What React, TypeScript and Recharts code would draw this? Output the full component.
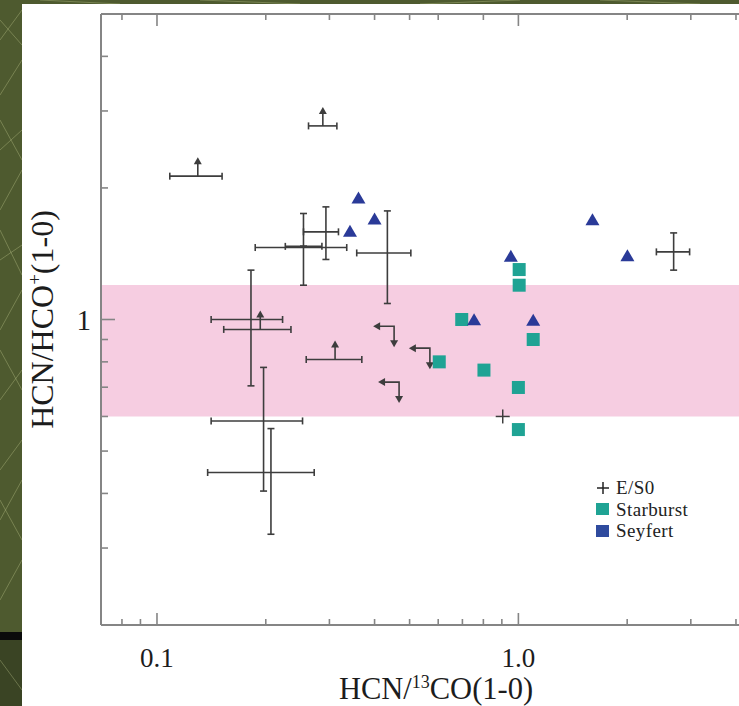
import React from 'react';
import { ScatterChart, Scatter, XAxis, YAxis, ErrorBar, ReferenceArea, Legend } from 'recharts';

// ---------- axes ----------
const xDomain = [0.07, 5];
const yDomain = [0.2, 5];
const xTicks = [0.08, 0.09, 0.1, 0.2, 0.3, 0.4, 0.5, 0.6, 0.7, 0.8, 0.9, 1, 2, 3, 4];
const xMajorTicks = [0.1, 1];
const xMajorLabels = ['0.1', '1.0'];
const yTicks = [0.3, 0.4, 0.5, 0.6, 0.7, 0.8, 0.9, 1, 2, 3, 4];
const yMajorTicks = [1];
const yMajorLabels = ['1'];
const bandLow = 0.6;
const bandHigh = 1.2;

// ---------- Seyfert (triangles) ----------
const seyfertX = [0.361, 0.4, 0.342, 0.953, 0.754, 1.099, 1.603, 2.003];
const seyfertY = [1.892, 1.694, 1.587, 1.391, 0.996, 0.993, 1.687, 1.396];

// ---------- Starburst (squares) ----------
const starburstX = [1.005, 1.005, 0.697, 1.099, 0.604, 0.803, 1.0, 1.0];
const starburstY = [1.301, 1.198, 1.0, 0.9, 0.8, 0.766, 0.699, 0.56];

// ---------- E/S0 with error bars ----------
const crossX = [0.2543, 0.2543, 0.2934, 0.434, 0.182, 0.1972, 0.2067, 2.689];
const crossXLo = [0.187, 0.2265, 0.2543, 0.357, 0.1412, 0.1412, 0.1381, 2.409];
const crossXHi = [0.335, 0.286, 0.3178, 0.504, 0.2226, 0.2528, 0.2723, 2.977];
const crossY = [1.461, 1.47, 1.587, 1.42, 1.0, 0.586, 0.4466, 1.428];
const crossYLo = [1.198, 1.47, 1.372, 1.088, 0.705, 0.405, 0.3226, 1.297];
const crossYHi = [1.748, 1.47, 1.81, 1.772, 1.297, 0.777, 0.5629, 1.578];

// ---------- E/S0 lower limits ----------
const lowerX = [0.1297, 0.2877, 0.1931, 0.311];
const lowerXLo = [0.1085, 0.2626, 0.153, 0.2588];
const lowerXHi = [0.1514, 0.3146, 0.2348, 0.3688];
const lowerY = [2.128, 2.773, 0.949, 0.81];

// ---------- E/S0 upper limits (both axes) ----------
const upperX = [0.453, 0.569, 0.4676];
const upperY = [0.965, 0.86, 0.719];

// ---------- E/S0 plain point ----------
const plainX = [0.905];
const plainY = [0.6];

// ---------- legend ----------
const legendNames = ['E/S0', 'Starburst', 'Seyfert'];

const INK = '#3d3d3d';
const TEAL = '#1fa394';
const BLUE = '#2a3a98';
const AXIS = '#858585';
const FONT = '"Liberation Serif", "DejaVu Serif", serif';

const seyfertData = seyfertX.map((x, i) => ({ x, y: seyfertY[i] }));
const starburstData = starburstX.map((x, i) => ({ x, y: starburstY[i] }));
const crossData = crossX.map((x, i) => ({
  x,
  y: crossY[i],
  ex: [x - crossXLo[i], crossXHi[i] - x],
  ey: [crossY[i] - crossYLo[i], crossYHi[i] - crossY[i]],
}));
const lowerData = lowerX.map((x, i) => ({
  x,
  y: lowerY[i],
  ex: [x - lowerXLo[i], lowerXHi[i] - x],
}));
const upperData = upperX.map((x, i) => ({ x, y: upperY[i] }));
const plainData = plainX.map((x, i) => ({ x, y: plainY[i] }));

const Tri = (p: any) => {
  const { cx, cy } = p;
  if (cx == null) return null;
  return <path d={`M${cx},${cy - 7} L${cx + 7},${cy + 5} L${cx - 7},${cy + 5} Z`} fill={BLUE} />;
};
const Sq = (p: any) => {
  const { cx, cy } = p;
  if (cx == null) return null;
  return <rect x={cx - 6.5} y={cy - 6.5} width={13} height={13} fill={TEAL} />;
};
const Empty = () => <g />;
const UpArrow = (p: any) => {
  const { cx, cy } = p;
  if (cx == null) return null;
  return (
    <g>
      <line x1={cx} y1={cy} x2={cx} y2={cy - 14} stroke={INK} strokeWidth={1.6} />
      <path d={`M${cx - 4},${cy - 12} L${cx},${cy - 19} L${cx + 4},${cy - 12} Z`} fill={INK} />
    </g>
  );
};
const CornerArrow = (p: any) => {
  const { cx, cy } = p;
  if (cx == null) return null;
  return (
    <g>
      <polyline points={`${cx - 16},${cy} ${cx},${cy} ${cx},${cy + 16}`} fill="none" stroke={INK} strokeWidth={1.6} />
      <path d={`M${cx - 14},${cy - 4} L${cx - 21},${cy} L${cx - 14},${cy + 4} Z`} fill={INK} />
      <path d={`M${cx - 4},${cy + 14} L${cx},${cy + 21} L${cx + 4},${cy + 14} Z`} fill={INK} />
    </g>
  );
};
const Plus = (p: any) => {
  const { cx, cy } = p;
  if (cx == null) return null;
  return (
    <g stroke={INK} strokeWidth={1.5}>
      <line x1={cx - 7} y1={cy} x2={cx + 7} y2={cy} />
      <line x1={cx} y1={cy - 7} x2={cx} y2={cy + 7} />
    </g>
  );
};

const BottomTick = (p: any) => {
  const { x, y, payload } = p;
  const idx = xMajorTicks.indexOf(payload.value);
  const len = idx >= 0 ? 12 : 6;
  return (
    <g>
      <line x1={x} x2={x} y1={y} y2={y - len} stroke={AXIS} strokeWidth={1.6} />
      {idx >= 0 && (
        <text x={x} y={y + 42} textAnchor="middle" fontFamily={FONT} fontSize={27} fill="#1c1c1c">
          {xMajorLabels[idx]}
        </text>
      )}
    </g>
  );
};
const TopTick = (p: any) => {
  const { x, y, payload } = p;
  const len = xMajorTicks.indexOf(payload.value) >= 0 ? 12 : 6;
  return <line x1={x} x2={x} y1={y} y2={y + len} stroke={AXIS} strokeWidth={1.6} />;
};
const LeftTick = (p: any) => {
  const { x, y, payload } = p;
  const idx = yMajorTicks.indexOf(payload.value);
  const len = idx >= 0 ? 14 : 7;
  return (
    <g>
      <line x1={x} x2={x + len} y1={y} y2={y} stroke={AXIS} strokeWidth={1.6} />
      {idx >= 0 && (
        <text x={x - 10} y={y + 10} textAnchor="end" fontFamily={FONT} fontSize={29} fill="#1c1c1c">
          {yMajorLabels[idx]}
        </text>
      )}
    </g>
  );
};

const XTitle = (props: any) => {
  const vb = props.viewBox || { x: 101, y: 625, width: 670, height: 81 };
  return (
    <text x={vb.x + vb.width / 2} y={vb.y + 74} textAnchor="middle" fontFamily={FONT} fontSize={30.5} fill="#1c1c1c">
      HCN/
      <tspan dy={-11} fontSize={18}>13</tspan>
      <tspan dy={11}>CO(1-0)</tspan>
    </text>
  );
};
const YTitle = (props: any) => {
  const vb = props.viewBox || { x: 0, y: 14, width: 101, height: 611 };
  const cy = vb.y + vb.height / 2;
  const bx = 53;
  return (
    <text x={bx} y={cy} transform={`rotate(-90, ${bx}, ${cy})`} textAnchor="middle" fontFamily={FONT} fontSize={32} fill="#1c1c1c">
      HCN/HCO
      <tspan dy={-12} fontSize={19}>+</tspan>
      <tspan dy={12}>(1-0)</tspan>
    </text>
  );
};

const LegendBox = () => (
  <div style={{ fontFamily: FONT, fontSize: 19, color: '#222', lineHeight: '21.5px' }}>
    {legendNames.map((n, i) => (
      <div key={n} style={{ display: 'flex', alignItems: 'center', height: 21.5 }}>
        <span style={{ width: 20, display: 'inline-flex', alignItems: 'center' }}>
          {i === 0 ? (
            <svg width={14} height={14}>
              <line x1={1} y1={7} x2={13} y2={7} stroke="#222" strokeWidth={1.5} />
              <line x1={7} y1={1} x2={7} y2={13} stroke="#222" strokeWidth={1.5} />
            </svg>
          ) : (
            <span style={{ width: 13, height: 12, background: i === 1 ? TEAL : '#2f4b9e', display: 'inline-block' }} />
          )}
        </span>
        <span style={{ letterSpacing: 0.4 }}>{n}</span>
      </div>
    ))}
  </div>
);

const textureLines = [
  [0, 40, 22, 10], [0, 95, 22, 60], [0, 150, 22, 130], [0, 210, 22, 170], [0, 260, 22, 245],
  [0, 330, 22, 290], [0, 400, 22, 370], [0, 470, 22, 440], [0, 520, 22, 480], [0, 600, 22, 560],
  [0, 20, 22, 45], [0, 120, 22, 160], [0, 230, 22, 275], [0, 350, 22, 390], [0, 500, 22, 540],
  [0, 660, 22, 690], [40, 0, 120, 4], [200, 0, 300, 4], [420, 4, 520, 0], [600, 0, 700, 4],
];

export default function App() {
  return (
    <div style={{ position: 'fixed', left: 0, top: 0, width: 739, height: 706, overflow: 'hidden', background: '#4e5a2f' }}>
      <svg width={739} height={706} style={{ position: 'absolute', left: 0, top: 0 }}>
        <rect x={0} y={640} width={22} height={66} fill="#3a4424" />
        <rect x={0} y={632} width={22} height={8} fill="#0b0b0b" />
        {textureLines.map((l, i) => (
          <line key={i} x1={l[0]} y1={l[1]} x2={l[2]} y2={l[3]} stroke="rgba(200,210,150,0.35)" strokeWidth={1} />
        ))}
      </svg>
      <div style={{ position: 'absolute', left: 22, top: 4, width: 739, height: 706, background: '#ffffff' }} />
      <div style={{ position: 'absolute', left: 0, top: 0 }}>
        <ScatterChart width={800} height={706} margin={{ top: 0, right: 29, bottom: 0, left: 0 }}>
          <XAxis
            xAxisId="top"
            orientation="top"
            type="number"
            dataKey="x"
            scale="log"
            domain={xDomain}
            allowDataOverflow
            ticks={xTicks}
            height={14}
            tickSize={0}
            tickMargin={0}
            tickLine={false}
            tick={<TopTick />}
            axisLine={{ stroke: AXIS, strokeWidth: 2 }}
          />
          <XAxis
            type="number"
            dataKey="x"
            scale="log"
            domain={xDomain}
            allowDataOverflow
            ticks={xTicks}
            height={81}
            tickSize={0}
            tickMargin={0}
            tickLine={false}
            tick={<BottomTick />}
            interval={0}
            axisLine={{ stroke: AXIS, strokeWidth: 2 }}
            label={{ content: XTitle }}
          />
          <YAxis
            type="number"
            dataKey="y"
            scale="log"
            domain={yDomain}
            allowDataOverflow
            ticks={yTicks}
            width={101}
            tickSize={0}
            tickMargin={0}
            tickLine={false}
            tick={<LeftTick />}
            interval={0}
            axisLine={{ stroke: AXIS, strokeWidth: 2 }}
            label={{ content: YTitle }}
          />
          <ReferenceArea x1={0.07} x2={5} y1={bandLow} y2={bandHigh} fill="#f6cde1" fillOpacity={1} stroke="none" ifOverflow="hidden" />
          <Scatter name="E/S0 errors" data={crossData} shape={Empty} isAnimationActive={false}>
            <ErrorBar dataKey="ex" direction="x" width={3.5} stroke={INK} strokeWidth={1.6} />
            <ErrorBar dataKey="ey" direction="y" width={3.5} stroke={INK} strokeWidth={1.6} />
          </Scatter>
          <Scatter name="E/S0 lower" data={lowerData} shape={UpArrow} isAnimationActive={false}>
            <ErrorBar dataKey="ex" direction="x" width={3.5} stroke={INK} strokeWidth={1.6} />
          </Scatter>
          <Scatter name="E/S0 upper" data={upperData} shape={CornerArrow} isAnimationActive={false} />
          <Scatter name="E/S0" data={plainData} shape={Plus} isAnimationActive={false} />
          <Scatter name="Starburst" data={starburstData} shape={Sq} isAnimationActive={false} />
          <Scatter name="Seyfert" data={seyfertData} shape={Tri} isAnimationActive={false} />
          <Legend
            layout="vertical"
            align="center"
            verticalAlign="middle"
            content={<LegendBox />}
            wrapperStyle={{ position: 'absolute', left: 596, top: 477, width: 130 }}
          />
        </ScatterChart>
      </div>
    </div>
  );
}
